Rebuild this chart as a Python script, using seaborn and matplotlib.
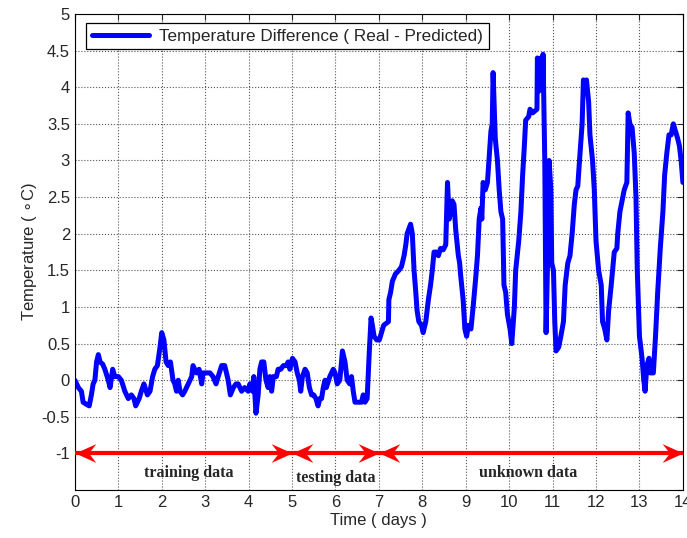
import numpy as np
import pandas as pd
import seaborn as sns
import matplotlib
matplotlib.use('Agg')
import matplotlib.pyplot as plt
from matplotlib.path import Path
from matplotlib.markers import MarkerStyle

# Time in days and temperature difference
days = [
    0.00, 0.08, 0.15, 0.19, 0.27, 0.33, 0.38, 0.42, 0.46, 0.50, 0.54, 0.58, 0.64, 0.69, 0.77, 0.81,
    0.87, 0.92, 1.00, 1.07, 1.15, 1.23, 1.30, 1.36, 1.40, 1.48, 1.53, 1.59, 1.67, 1.73, 1.79, 1.84,
    1.90, 1.96, 2.00, 2.05, 2.10, 2.15, 2.20, 2.26, 2.30, 2.34, 2.38, 2.42, 2.48, 2.53, 2.61, 2.69,
    2.72, 2.80, 2.86, 2.92, 2.95, 3.03, 3.11, 3.18, 3.25, 3.30, 3.38, 3.45, 3.53, 3.58, 3.65, 3.71,
    3.76, 3.84, 3.91, 3.99, 4.03, 4.09, 4.12, 4.17, 4.22, 4.26, 4.30, 4.35, 4.40, 4.45, 4.49, 4.53,
    4.57, 4.64, 4.68, 4.74, 4.80, 4.87, 4.91, 4.95, 5.01, 5.07, 5.12, 5.17, 5.20, 5.24, 5.30, 5.35,
    5.40, 5.45, 5.50, 5.55, 5.60, 5.64, 5.68, 5.72, 5.76, 5.79, 5.87, 5.95, 5.99, 6.04, 6.10, 6.14,
    6.16, 6.22, 6.27, 6.33, 6.37, 6.41, 6.45, 6.52, 6.60, 6.64, 6.68, 6.73, 6.78, 6.82, 6.85, 6.89,
    6.95, 7.01, 7.06, 7.11, 7.22, 7.23, 7.27, 7.31, 7.38, 7.46, 7.52, 7.58, 7.62, 7.65, 7.73, 7.77,
    7.81, 7.85, 7.88, 7.92, 7.98, 8.02, 8.08, 8.14, 8.19, 8.23, 8.27, 8.32, 8.37, 8.42, 8.48, 8.54,
    8.58, 8.62, 8.65, 8.69, 8.73, 8.77, 8.83, 8.86, 8.88, 8.94, 8.98, 9.02, 9.06, 9.12, 9.17, 9.23,
    9.27, 9.31, 9.35, 9.37, 9.40, 9.45, 9.50, 9.54, 9.58, 9.61, 9.63, 9.68, 9.73, 9.77, 9.81, 9.85,
    9.88, 9.92, 9.96, 10.02, 10.06, 10.12, 10.15, 10.22, 10.27, 10.31, 10.35, 10.38, 10.45, 10.48,
    10.54, 10.60, 10.64, 10.65, 10.69, 10.73, 10.77, 10.78, 10.82, 10.85, 10.88, 10.92, 10.96, 10.98,
    11.02, 11.05, 11.08, 11.14, 11.19, 11.25, 11.29, 11.35, 11.40, 11.45, 11.50, 11.54, 11.58, 11.62,
    11.68, 11.71, 11.75, 11.78, 11.83, 11.86, 11.92, 11.96, 12.00, 12.06, 12.12, 12.15, 12.20, 12.25,
    12.29, 12.35, 12.42, 12.48, 12.50, 12.55, 12.60, 12.65, 12.71, 12.74, 12.78, 12.83, 12.88, 12.92,
    12.95, 13.00, 13.06, 13.10, 13.13, 13.17, 13.22, 13.25, 13.32, 13.37, 13.42, 13.48, 13.54, 13.58,
    13.63, 13.68, 13.73, 13.78, 13.83, 13.88, 13.92, 13.96, 14.00,
]
temp_diff = [
    0.00, -0.10, -0.15, -0.30, -0.33, -0.35, -0.20, -0.05, 0.00, 0.25, 0.35, 0.25, 0.22, 0.15, 0.00, -0.10,
    0.15, 0.05, 0.05, 0.00, -0.15, -0.25, -0.20, -0.25, -0.35, -0.25, -0.15, -0.05, -0.20, -0.15, 0.05, 0.15,
    0.20, 0.45, 0.65, 0.55, 0.25, 0.20, 0.25, 0.00, -0.05, -0.15, 0.00, -0.15, -0.20, -0.15, -0.05, 0.05,
    0.20, 0.10, 0.15, -0.05, 0.10, 0.10, 0.10, 0.05, -0.05, 0.05, 0.20, 0.20, 0.00, -0.20, -0.10, -0.05,
    -0.05, -0.15, -0.10, -0.15, -0.05, -0.15, 0.05, -0.45, -0.20, 0.15, 0.25, 0.25, 0.00, -0.10, 0.05, -0.15,
    0.05, 0.05, 0.15, 0.15, 0.20, 0.20, 0.25, 0.15, 0.30, 0.25, 0.10, 0.00, -0.15, 0.05, 0.15, 0.10,
    -0.10, -0.20, -0.20, -0.25, -0.35, -0.25, -0.25, -0.10, 0.00, -0.10, 0.05, 0.15, 0.10, -0.05, 0.00, 0.25,
    0.40, 0.25, 0.00, -0.05, 0.05, -0.15, -0.30, -0.30, -0.30, -0.20, -0.30, -0.25, 0.40, 0.85, 0.75, 0.60,
    0.55, 0.55, 0.65, 0.75, 0.80, 1.10, 1.20, 1.35, 1.45, 1.50, 1.55, 1.70, 1.85, 2.00, 2.13, 2.00,
    1.50, 1.20, 0.95, 0.80, 0.75, 0.65, 0.80, 1.10, 1.30, 1.50, 1.75, 1.75, 1.70, 1.80, 1.78, 1.85,
    2.70, 2.20, 2.30, 2.45, 2.40, 2.05, 1.70, 1.60, 1.45, 1.10, 0.70, 0.60, 0.75, 0.70, 1.00, 1.40,
    1.70, 2.20, 2.35, 2.20, 2.70, 2.60, 2.70, 3.05, 3.40, 3.50, 4.20, 3.30, 3.00, 2.60, 2.30, 2.20,
    1.30, 1.20, 0.90, 0.70, 0.50, 1.00, 1.50, 1.90, 2.30, 2.80, 3.20, 3.55, 3.60, 3.70,
    3.65, 3.68, 3.70, 4.40, 3.95, 4.40, 4.10, 4.45, 3.00, 0.65, 1.50, 3.00, 2.60, 1.60,
    1.50, 0.80, 0.40, 0.45, 0.60, 0.80, 1.30, 1.60, 1.70, 2.00, 2.40, 2.60, 2.65, 3.00,
    3.50, 4.10, 4.05, 4.10, 3.80, 3.35, 3.00, 2.60, 1.90, 1.50, 1.30, 0.80, 0.70, 0.55,
    0.95, 1.30, 1.75, 1.80, 2.00, 2.30, 2.45, 2.60, 2.70, 3.65, 3.50, 3.45, 3.10, 2.50,
    1.50, 0.60, 0.30, 0.00, -0.15, 0.20, 0.30, 0.10, 0.10, 0.60, 1.20, 1.80, 2.30, 2.80,
    3.10, 3.35, 3.35, 3.50, 3.40, 3.30, 3.20, 3.00, 2.70,
]

# Data segments marked with arrows at y = -1
segment_bounds = [(0, 5), (5, 7), (7, 14)]
segment_labels = ['training data', 'testing data', 'unknown data']
label_x = [2.62, 6.0, 10.43]
label_y = [-1.27, -1.33, -1.27]
arrow_y = -1

df = pd.DataFrame({'Time': days, 'Temp': temp_diff})

sns.set_style('white')
plt.rcParams['font.family'] = ['Liberation Sans', 'DejaVu Sans']
plt.rcParams['font.size'] = 12

fig = plt.figure(figsize=(6.87, 5.38), dpi=100)
ax = fig.add_axes([0.109, 0.089, 0.885, 0.885])

sns.lineplot(data=df, x='Time', y='Temp', estimator=None, sort=False,
             color='#0000FF', linewidth=3.6, ax=ax,
             label='Temperature Difference ( Real - Predicted)')

# notched arrow head, tip at the origin, pointing right
head = Path([(0, 0), (-1.0, 0.45), (-0.65, 0), (-1.0, -0.45), (0, 0)],
            [Path.MOVETO, Path.LINETO, Path.LINETO, Path.LINETO, Path.CLOSEPOLY])
head_right = MarkerStyle(head)
head_left = MarkerStyle(head).rotated(deg=180)

for x0, x1 in segment_bounds:
    ax.plot([x0, x1], [arrow_y, arrow_y], color='#FF0000', lw=3, solid_capstyle='butt',
            clip_on=False, zorder=4)
    ax.plot([x1], [arrow_y], marker=head_right, markersize=30, color='#FF0000',
            markeredgewidth=0, clip_on=False, zorder=4)
    ax.plot([x0], [arrow_y], marker=head_left, markersize=30, color='#FF0000',
            markeredgewidth=0, clip_on=False, zorder=4)

for txt, tx, ty in zip(segment_labels, label_x, label_y):
    ax.text(tx, ty, txt, ha='center', va='center', fontsize=11.5,
            fontweight='bold', family='Liberation Serif')

ax.set_xlim(0, 14)
ax.set_ylim(-1.5, 5)
ax.set_xticks(np.arange(0, 15, 1))
ax.set_yticks(np.arange(-1.5, 5.01, 0.5))
ax.set_yticklabels(['', '-1', '-0.5', '0', '0.5', '1', '1.5', '2', '2.5', '3', '3.5', '4', '4.5', '5'])
ax.grid(True, linestyle=':', color='#555555', linewidth=0.8)
ax.tick_params(direction='in', length=4, top=True, right=True, labelsize=12, width=0.8)
for s in ax.spines.values():
    s.set_color('black')
    s.set_linewidth(0.8)

ax.set_xlabel('Time ( days )', fontsize=12, labelpad=2)
ax.set_ylabel('Temperature ( $\\circ$C)', fontsize=12, labelpad=2)

leg = ax.legend(loc='upper left', bbox_to_anchor=(0.005, 1.0), handlelength=3.3,
                fancybox=False, edgecolor='black', framealpha=1, fontsize=12.3,
                borderpad=0.35, handletextpad=0.6)
leg.get_frame().set_linewidth(0.9)

fig.savefig('out.png', dpi=100)
